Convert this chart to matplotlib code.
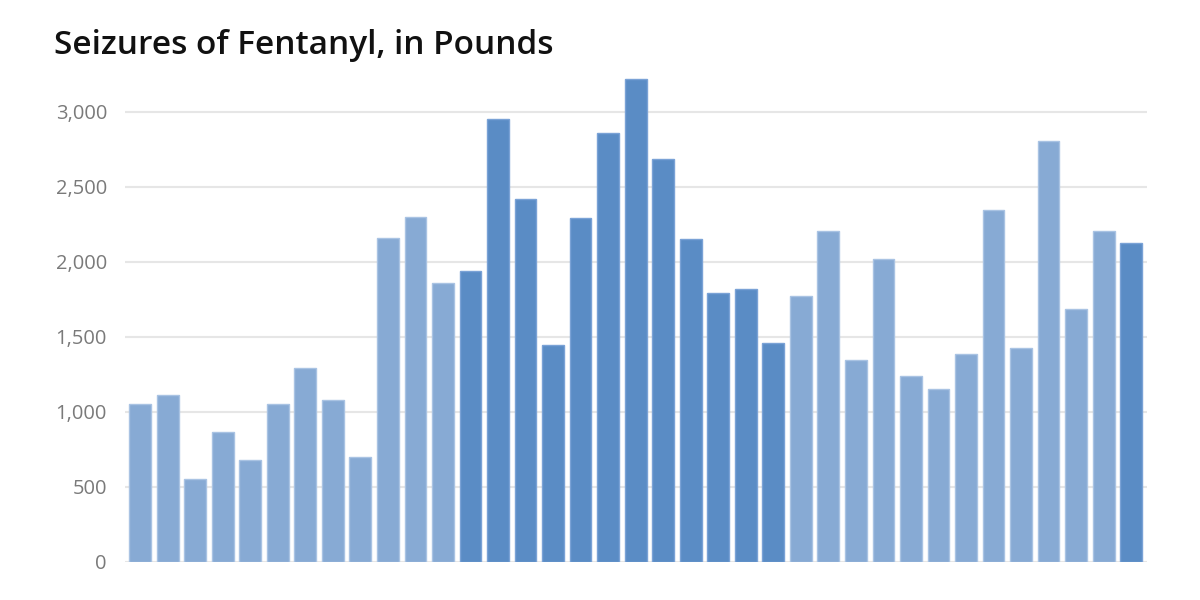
import matplotlib
matplotlib.use("Agg")
import matplotlib.pyplot as plt
from matplotlib.ticker import FuncFormatter

title = "Seizures of Fentanyl, in Pounds"
values = [1051, 1113, 549, 862, 678, 1051, 1289, 1078, 698, 2158, 2300, 1856,
          1938, 2949, 2418, 1445, 2293, 2856, 3218, 2683, 2153, 1789, 1818, 1458,
          1769, 2202, 1344, 2016, 1240, 1149, 1382, 2344, 1424, 2804, 1684, 2207,
          2122]
highlight = [False]*12 + [True]*12 + [False]*12 + [True]
yticks = [0, 500, 1000, 1500, 2000, 2500, 3000]

light = "#87aad4"
dark = "#5a8cc5"

fig = plt.figure(figsize=(12, 6), dpi=100)
ax = fig.add_axes([125/1200, 1 - 561.7/600, (1147-125)/1200, (561.7-60)/600])

x = list(range(len(values)))
colors = [dark if h else light for h in highlight]
edges = ["#7aa2d6" if h else "#a9c3e3" for h in highlight]
ax.bar(x, values, width=0.79, color=colors, edgecolor=edges, linewidth=1.0, zorder=3)

ax.set_ylim(0, (561.7-60)/0.15)
ax.set_xlim(-0.55, len(values) - 1 + 0.575)
ax.set_yticks(yticks)
ax.yaxis.set_major_formatter(FuncFormatter(lambda v, p: f"{int(v):,}"))
ax.grid(axis="y", color="#e6e6e6", linewidth=1.5, zorder=0)
ax.set_xticks([])
for s in ax.spines.values():
    s.set_visible(False)
ax.tick_params(axis="y", length=0, pad=13, labelsize=14.5, labelcolor="#7a7a7a")
for lab in ax.get_yticklabels():
    lab.set_fontfamily("Open Sans")
    lab.set_fontweight("normal")

fig.text(54/1200, 1 - 45/600, title, fontsize=24, fontweight="semibold",
         family="Open Sans", color="#111111", va="center", ha="left")

fig.savefig("out.png", dpi=100, facecolor="white")
